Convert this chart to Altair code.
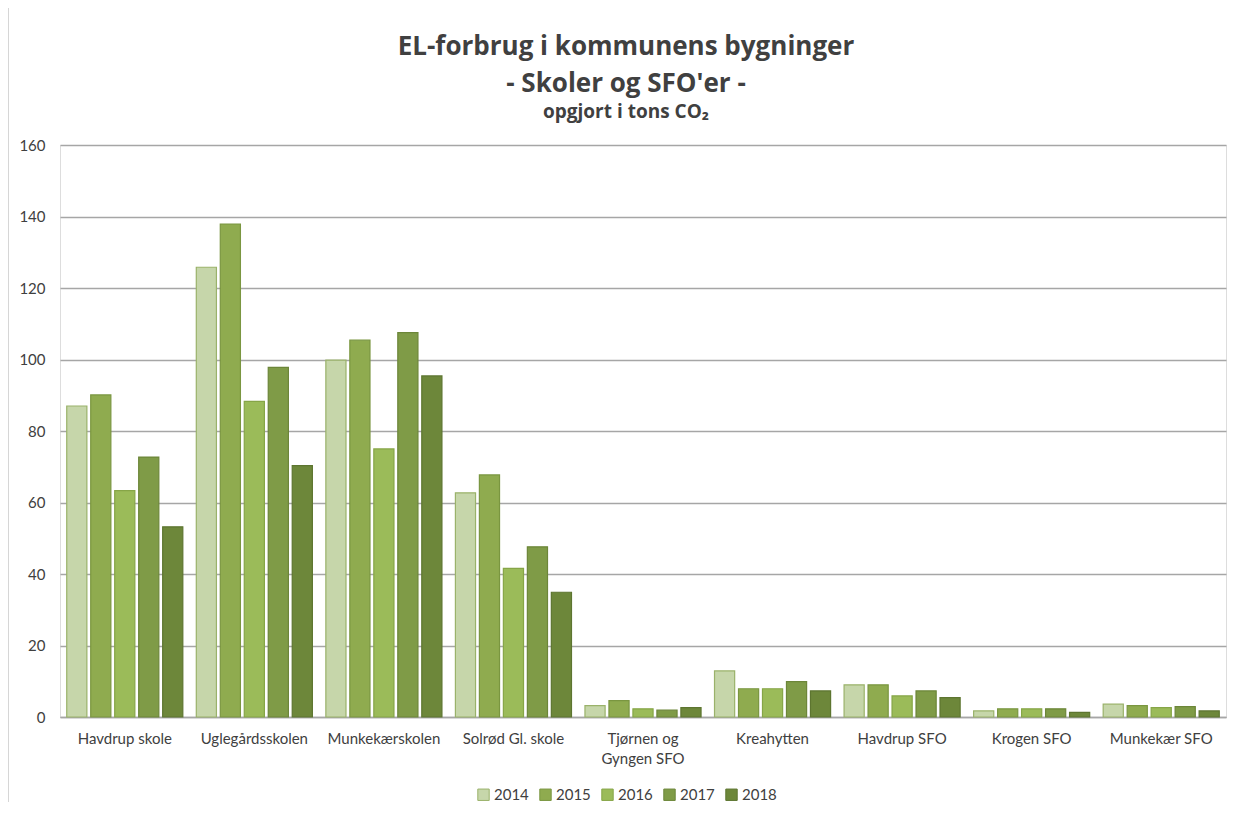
import altair as alt
import pandas as pd

buildings = ["Havdrup skole", "Uglegårdsskolen", "Munkekærskolen", "Solrød Gl. skole",
             "Tjørnen og Gyngen SFO", "Kreahytten", "Havdrup SFO", "Krogen SFO", "Munkekær SFO"]
years = ["2014", "2015", "2016", "2017", "2018"]
v2014 = [87.0, 125.8, 99.8, 62.7, 3.2, 12.9, 9.0, 1.7, 3.6]
v2015 = [90.1, 137.9, 105.4, 67.7, 4.6, 7.9, 9.0, 2.3, 3.2]
v2016 = [63.3, 88.3, 75.0, 41.6, 2.3, 7.9, 5.9, 2.3, 2.6]
v2017 = [72.7, 97.8, 107.5, 47.6, 1.9, 9.9, 7.3, 2.3, 2.9]
v2018 = [53.2, 70.3, 95.4, 34.9, 2.6, 7.3, 5.4, 1.3, 1.7]
colors = ["#c6d6aa", "#8fab4f", "#9bbb59", "#7f9b47", "#6d873a"]
strokes = ["#9ab26a", "#7a9640", "#86a547", "#6c8639", "#5d7530"]

series = [v2014, v2015, v2016, v2017, v2018]
rows = []
for y, vals in zip(years, series):
    for b, v in zip(buildings, vals):
        rows.append({"Bygning": b, "År": y, "Tons": v})
df = pd.DataFrame(rows)

font = "Lato"
label_expr = "datum.label == 'Tjørnen og Gyngen SFO' ? ['Tjørnen og', 'Gyngen SFO'] : datum.label"

bars = alt.Chart(df).mark_bar(strokeWidth=1.2).encode(
    x=alt.X("Bygning:N", sort=buildings, title=None,
            scale=alt.Scale(paddingInner=0.104, paddingOuter=0.052),
            axis=alt.Axis(labelAngle=0, labelFontSize=15, labelColor="#404040", labelFont=font,
                          ticks=False, domain=True, domainColor="#a6a6a6", domainWidth=1.5,
                          labelPadding=14, labelExpr=label_expr, labelLineHeight=20,
                          labelBaseline="top")),
    xOffset=alt.XOffset("År:N", sort=years, scale=alt.Scale(paddingInner=0.16, paddingOuter=0)),
    y=alt.Y("Tons:Q", title=None,
            scale=alt.Scale(domain=[0, 160], nice=False),
            axis=alt.Axis(values=[0, 20, 40, 60, 80, 100, 120, 140, 160], labelFontSize=15,
                          labelColor="#404040", labelFont=font, ticks=False, domain=False,
                          gridColor="#a6a6a6", gridWidth=1.5, labelPadding=15)),
    color=alt.Color("År:N", sort=years, scale=alt.Scale(domain=years, range=colors),
                    legend=alt.Legend(title=None, orient="none", direction="horizontal",
                                      legendX=416, legendY=642, symbolType="square",
                                      symbolSize=130, symbolStrokeWidth=1, labelFontSize=15,
                                      labelFont=font, labelColor="#404040", columnPadding=8,
                                      labelOffset=3)),
    stroke=alt.Stroke("År:N", sort=years, scale=alt.Scale(domain=years, range=strokes), legend=None),
)

frame = alt.Chart(pd.DataFrame({"a": [0]})).mark_rule(color="#c8c8c8", strokeWidth=1.5).encode(
    x=alt.value(-52), y=alt.value(-137), y2=alt.value(657)
)

chart = alt.layer(bars, frame).properties(
    width=1166,
    height=572,
    autosize=alt.AutoSizeParams(type="none"),
    padding={"left": 52, "top": 137, "right": 1, "bottom": 86},
    title=alt.TitleParams(
        text=["EL-forbrug i kommunens bygninger", "- Skoler og SFO'er -"],
        subtitle="opgjort i tons CO₂",
        anchor="middle", frame="group", font="Open Sans", fontSize=26, fontWeight="bold",
        color="#404040", lineHeight=37, subtitleFont="Open Sans", subtitleFontSize=19,
        subtitleFontWeight="bold", subtitleColor="#404040", subtitlePadding=6, offset=-115,
        dx=-17,
    ),
).configure_view(
    fill="#eef2e8", stroke="#a6a6a6", strokeWidth=1.5
).configure(background="white")

chart.save("out.html", embed_options={"renderer": "svg", "actions": False})
